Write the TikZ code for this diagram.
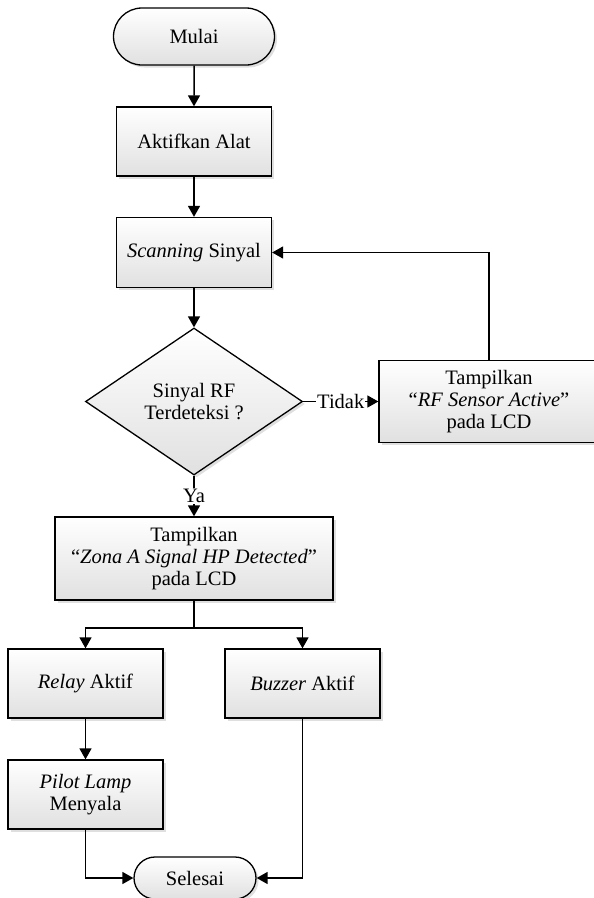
\documentclass[tikz,border=0pt]{standalone}
\usepackage{fontspec}
\setmainfont{Liberation Serif}
\usetikzlibrary{arrows.meta,shapes.geometric,shapes.misc,shadows}

\tikzset{
  box/.style={draw, line width=1.3pt, top color=white, bottom color=black!12,
    drop shadow={opacity=0.25, shadow xshift=2.5pt, shadow yshift=-2.5pt},
    align=center, inner sep=2pt, font=\fontsize{20.5}{22}\selectfont},
  proc/.style={box, rectangle, minimum width=155pt, minimum height=69pt},
  term/.style={box, rounded rectangle, minimum width=165pt, minimum height=57pt},
  cond/.style={box, diamond, aspect=1.48, minimum width=217pt, minimum height=147pt, inner sep=0pt},
  flow/.style={line width=1.5pt, -{Triangle[length=11pt,width=12pt]}},
  lbl/.style={fill=white, inner sep=1pt, font=\fontsize{20.5}{22}\selectfont}
}

\begin{document}
\begin{tikzpicture}[x=1pt, y=-1pt]
        \useasboundingbox (0,0) rectangle (594,898);
        \node[term] (mulai) at (194,36.5) {Mulai};
        \node[proc] (aktif) at (194,141.5) {Aktifkan Alat};
        \node[proc, minimum height=70pt] (scan) at (194,252.5) {\textit{Scanning} Sinyal};
        \node[cond] (cek) at (194,401.5) {Sinyal RF\\Terdeteksi ?};
        \node[proc, minimum width=220pt, minimum height=82pt] (rf) at (489,401.5) {Tampilkan\\“\textit{RF Sensor Active}”\\pada LCD};
        \node[proc, minimum width=278pt, minimum height=83pt] (zona) at (194,558.5) {Tampilkan\\“\textit{Zona A Signal HP Detected}”\\pada LCD};
        \node[proc] (relay) at (85.5,683.5) {\textit{Relay} Aktif};
        \node[proc] (buzzer) at (302.5,683.5) {\textit{Buzzer} Aktif};
        \node[proc] (lamp) at (85.5,794.5) {\textit{Pilot Lamp}\\Menyala};
        \node[term, minimum width=126pt, minimum height=42pt] (selesai) at (195,878) {Selesai};
        \coordinate (cabang) at (194,628);
        \draw[flow] (mulai) -- (aktif);
        \draw[flow] (aktif) -- (scan);
        \draw[flow] (scan) -- (cek);
        \draw[flow] (cek) -- node[lbl] {Tidak} (rf);
        \draw[flow] (cek) -- node[lbl] {Ya} (zona);
        \draw[flow] (rf.north) |- (scan.east);
        \draw[line width=1.5pt] (zona) -- (cabang);
        \draw[flow] (cabang) -| (relay);
        \draw[flow] (cabang) -| (buzzer);
        \draw[flow] (relay) -- (lamp);
        \draw[flow] (lamp) |- (selesai);
        \draw[flow] (buzzer) |- (selesai);
\end{tikzpicture}
\end{document}
